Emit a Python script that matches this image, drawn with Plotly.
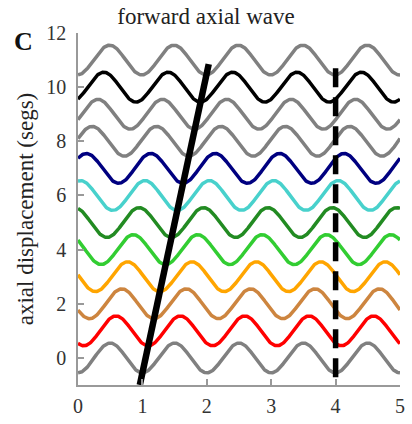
import numpy as np
import plotly.graph_objects as go

# ---- data ----
offsets = [0, 1, 2, 3, 4, 5, 6, 7, 8, 9, 10, 11]            # segment index (baseline of each wave)
trough_x = [0.00, 0.09, 0.18, 0.27, 0.36, 0.45, 0.54, 0.63, 0.72, 0.81, 0.90, 0.99]  # first trough position
amplitude = 0.55
period = 1.0
colors = ["#808080", "#ff0000", "#cd853f", "#ffa500", "#32cd32", "#228b22",
          "#48d1cc", "#000080", "#808080", "#808080", "#000000", "#808080"]

wave_front_x = [0.96, 2.03]
wave_front_y = [-1.0, 10.85]
marker_x = [4, 4]
marker_y = [10.7, -1.0]

x_ticks = [0, 1, 2, 3, 4, 5]
y_ticks = [0, 2, 4, 6, 8, 10, 12]

SERIF = "Liberation Serif"

fig = go.Figure()
xs = np.linspace(0, 5, 501)
for off, tx, col in zip(offsets, trough_x, colors):
    ys = off - amplitude * np.cos(2 * np.pi * (xs - tx) / period)
    fig.add_trace(go.Scatter(x=xs, y=ys, mode="lines",
                             line=dict(color=col, width=3.5), hoverinfo="skip"))

fig.add_trace(go.Scatter(x=wave_front_x, y=wave_front_y, mode="lines",
                         line=dict(color="black", width=6.5)))
fig.add_trace(go.Scatter(x=marker_x, y=marker_y, mode="lines",
                         line=dict(color="black", width=5.5, dash="19px,10px")))

axis_common = dict(showline=True, linecolor="#999999", linewidth=1.5,
                   ticks="inside", ticklen=6, tickcolor="#999999", tickwidth=1.5,
                   showgrid=False, zeroline=False,
                   tickfont=dict(family=SERIF, size=20, color="#333333"))

fig.update_layout(
    width=412, height=424,
    margin=dict(l=78, r=7, t=33, b=27),
    paper_bgcolor="white", plot_bgcolor="white",
    showlegend=False,
    title=dict(text="forward axial wave", x=0.5, xanchor="center",
               y=1 - 16 / 424, yanchor="middle",
               font=dict(family=SERIF, size=23, color="#222222")),
    xaxis=dict(range=[0, 5], tickvals=x_ticks, ticklabelstandoff=2, **axis_common),
    yaxis=dict(range=[-1, 12], tickvals=y_ticks, ticklabelstandoff=6,
               title=dict(text="axial displacement (segs)", standoff=6,
                          font=dict(family=SERIF, size=23, color="#222222")),
               **axis_common),
    annotations=[dict(text="<b>C</b>", xref="paper", yref="paper",
                      x=-0.168, y=0.977, xanchor="center", yanchor="middle",
                      showarrow=False, font=dict(family=SERIF, size=26, color="#111111"))],
)

fig.write_html("out.html")
